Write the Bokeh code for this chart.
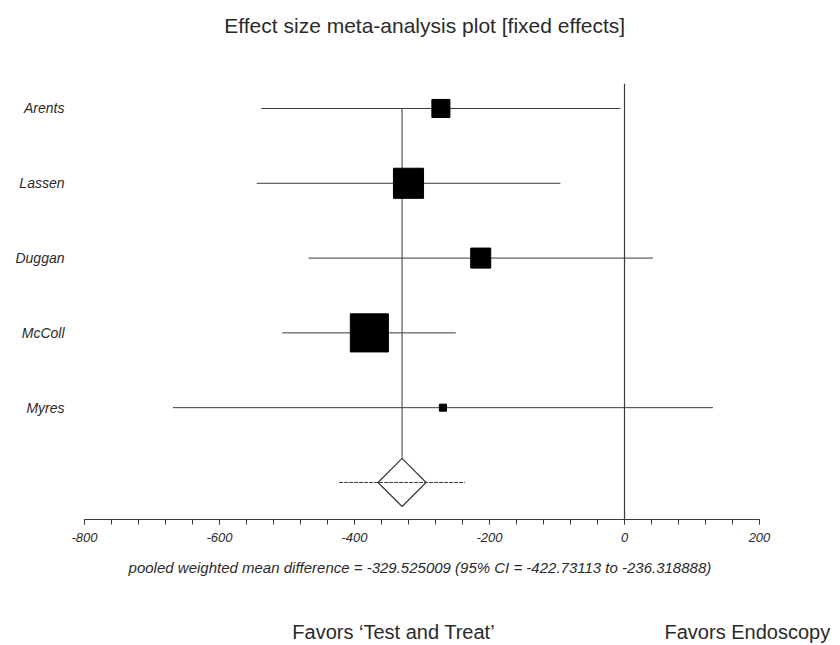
import math
from bokeh.plotting import figure
from bokeh.models import Range1d, Span, FixedTicker, ColumnDataSource, LinearAxis
from bokeh.embed import file_html
from bokeh.resources import INLINE

# ---- data ----
studies = ["Arents", "Lassen", "Duggan", "McColl", "Myres"]
effect = [-272, -320, -213, -378, -269]
ci_low = [-538, -545, -468, -507, -669]
ci_high = [-6, -95, 42, -250, 131]
weights = [10.4, 28.9, 12.8, 46.3, 1.6]  # percent weight (square area)
pooled = -329.525009
pooled_low = -422.73113
pooled_high = -236.318888
x_ticks = [-800, -600, -400, -200, 0, 200]
title_text = "Effect size meta-analysis plot [fixed effects]"
title_x = -296
favors = ["Favors \u2018Test and Treat\u2019", "Favors Endoscopy"]
favors_x = [-342, 182]

rows = list(range(1, len(studies) + 1))
pooled_row = len(studies) + 1

LINE = "#3a3a3a"
TXT = "#2a2a2a"
FONT = "Liberation Sans"

p = figure(width=840, height=645, output_backend="svg", toolbar_location=None,
           title=None,
           x_range=Range1d(-800, 200), y_range=Range1d(6.495, 0.666),
           min_border_left=84, min_border_right=81, min_border_top=83,
           min_border_bottom=126)
p.outline_line_color = None
p.xgrid.visible = False
p.ygrid.visible = False
p.background_fill_color = "white"
p.border_fill_color = "white"

# default axes (grab before adding extra ones)
xa = p.below[0]
ya = p.left[0]

# title carried by an axis above the frame
ta = LinearAxis(ticker=FixedTicker(ticks=[title_x]),
                major_label_overrides={title_x: title_text})
ta.axis_line_color = None
ta.major_tick_line_color = None
ta.minor_tick_line_color = None
ta.major_tick_in = 0
ta.major_tick_out = 0
ta.major_label_standoff = 47
ta.major_label_text_font = FONT
ta.major_label_text_font_style = "normal"
ta.major_label_text_font_size = "21px"
ta.major_label_text_color = TXT
p.add_layout(ta, "above")

src = ColumnDataSource(dict(
    y=rows, eff=effect, lo=ci_low, hi=ci_high,
    size=[math.sqrt(w) * 5.6 for w in weights]))

# zero line
p.add_layout(Span(location=0, dimension="height", line_color=LINE, line_width=1.2))

# pooled vertical line
p.segment(x0=[pooled], y0=[rows[0]], x1=[pooled], y1=[pooled_row],
          line_color=LINE, line_width=1)

# CI lines
p.segment(x0="lo", y0="y", x1="hi", y1="y", source=src, line_color=LINE, line_width=1)
# study squares
p.scatter(x="eff", y="y", size="size", source=src, marker="square",
          fill_color="black", line_color="black")

# pooled CI and diamond
p.scatter(x=[pooled], y=[pooled_row], size=34, marker="square", angle=math.pi / 4,
          fill_color="white", line_color=LINE, line_width=1.2)
p.segment(x0=[pooled_low], y0=[pooled_row], x1=[pooled_high], y1=[pooled_row],
          line_color=LINE, line_width=1, line_dash="4 1")

# x axis
xa.ticker = FixedTicker(ticks=x_ticks,
                        minor_ticks=list(range(x_ticks[0], x_ticks[-1] + 1, 40)))
xa.major_label_overrides = {t: str(t) for t in x_ticks}
xa.axis_line_color = LINE
xa.major_tick_line_color = LINE
xa.minor_tick_line_color = LINE
xa.major_tick_in = 0
xa.major_tick_out = 5
xa.minor_tick_in = 0
xa.minor_tick_out = 5
xa.major_label_text_font = FONT
xa.major_label_text_font_style = "italic"
xa.major_label_text_font_size = "13px"
xa.major_label_text_color = TXT
xa.major_label_standoff = 8
xa.axis_label = (f"pooled weighted mean difference = {pooled}  "
                 f"(95% CI = {pooled_low} to {pooled_high})")
xa.axis_label_text_font = FONT
xa.axis_label_text_font_style = "italic"
xa.axis_label_text_font_size = "15px"
xa.axis_label_text_color = TXT
xa.axis_label_standoff = 14

# second axis below carrying the "Favors" captions
fa = LinearAxis(ticker=FixedTicker(ticks=favors_x),
                major_label_overrides={x: t for x, t in zip(favors_x, favors)})
fa.axis_line_color = None
fa.major_tick_line_color = None
fa.minor_tick_line_color = None
fa.major_tick_in = 0
fa.major_tick_out = 0
fa.major_label_standoff = 42
fa.major_label_text_font = FONT
fa.major_label_text_font_style = "normal"
fa.major_label_text_font_size = "20px"
fa.major_label_text_color = TXT
p.add_layout(fa, "below")

# y axis (study names)
ya.ticker = FixedTicker(ticks=rows)
ya.major_label_overrides = {r: s for r, s in zip(rows, studies)}
ya.axis_line_color = None
ya.major_tick_line_color = None
ya.minor_tick_line_color = None
ya.major_tick_out = 0
ya.major_tick_in = 0
ya.major_label_standoff = 20
ya.major_label_text_font = FONT
ya.major_label_text_font_style = "italic"
ya.major_label_text_font_size = "14px"
ya.major_label_text_color = TXT

open("out.html", "w").write(file_html(p, INLINE))
